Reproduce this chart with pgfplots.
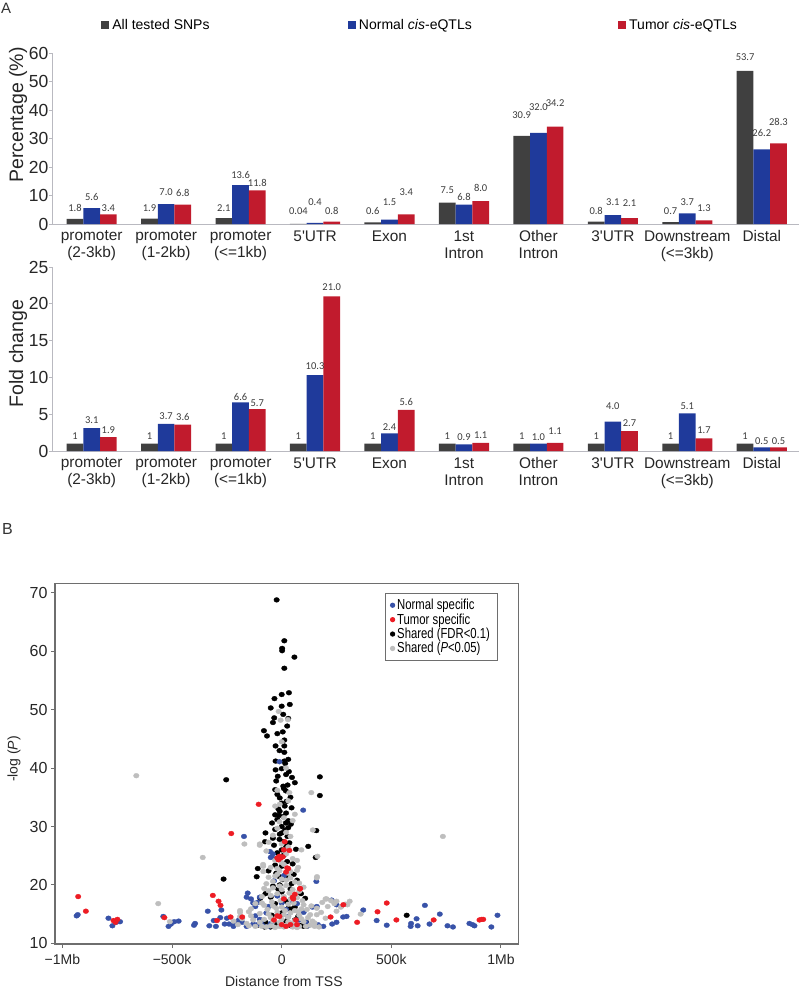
\documentclass[border=0pt]{standalone}
\usepackage{fontspec}
\setmainfont{Liberation Sans}
\newfontfamily\calib{Carlito}
\newfontfamily\narrow[FakeStretch=0.78]{Liberation Sans}
\usepackage{pgfplots}
\usepackage{pgfplotstable}
\pgfplotsset{compat=1.18}

\definecolor{cgray}{RGB}{64,64,64}
\definecolor{cblue}{RGB}{31,58,155}
\definecolor{cred}{RGB}{193,27,45}
\definecolor{labgray}{RGB}{60,60,60}
\definecolor{axgray}{RGB}{185,185,192}
\definecolor{sblue}{RGB}{56,82,168}
\definecolor{sred}{RGB}{237,28,36}
\definecolor{sgray}{RGB}{190,190,190}
\definecolor{boxgray}{RGB}{110,110,110}

% x value label-offset(px)
\pgfplotstableread{
x g gl gd b bl bd r rl rd
0 1.8 1.8 11.2 5.6 5.6 11.3 3.4 3.4 6.6
1 1.9 1.9 10.9 7.0 7.0 11.7 6.8 6.8 11.3
2 2.1 2.1 10.3 13.6 13.6 10.2 11.8 11.8 7.7
3 0.04 0.04 12.9 0.4 0.4 20.6 0.8 0.8 10.7
4 0.6 0.6 11.3 1.5 1.5 17.4 3.4 3.4 22
5 7.5 7.5 12.6 6.8 6.8 7.9 8.0 8.0 12.9
6 30.9 30.9 21 32.0 32.0 26 34.2 34.2 23
7 0.8 0.8 10.7 3.1 3.1 13.5 2.1 2.1 14.7
8 0.7 0.7 11 3.7 3.7 11.8 1.3 1.3 12
9 53.7 53.7 14.3 26.2 26.2 16 28.3 28.3 21.6
}\pct

\pgfplotstableread{
x g gl gd b bl bd r rl rd
0 1 1 7.6 3.1 3.1 8.2 1.9 1.9 7
1 1 1 7.6 3.7 3.7 8 3.6 3.6 7.8
2 1 1 7.6 6.6 6.6 5.8 5.7 5.7 5.8
3 1 1 7.6 10.3 10.3 8.6 21.0 21.0 9.3
4 1 1 7.6 2.4 2.4 6.7 5.6 5.6 8.1
5 1 1 7.6 0.9 0.9 7 1.1 1.1 7.9
6 1 1 7.6 1.0 1.0 6.3 1.1 1.1 12.2
7 1 1 7.6 4.0 4.0 15 2.7 2.7 8.5
8 1 1 7.6 5.1 5.1 7.5 1.7 1.7 8.5
9 1 1 7.6 0.5 0.5 6.6 0.5 0.5 6.6
}\fold

% scatter: distance (Mb), -log P
\pgfplotstableread{
d v
-0.935 14.7
-0.93 14.9
-0.79 14.3
-0.772 13.0
-0.737 13.7
-0.755 13.6
-0.54 14.6
-0.516 12.9
-0.505 13.3
-0.49 13.7
-0.47 13.8
-0.40 13.1
-0.395 13.4
-0.337 15.5
-0.33 13.0
-0.31 13.9
-0.30 12.9
-0.28 14.4
-0.275 15.7
-0.26 13.3
-0.25 14.3
-0.24 13.3
-0.22 13.2
-0.22 12.9
-0.205 13.4
-0.195 14.0
-0.18 13.6
-0.172 28.3
-0.16 17.9
-0.16 12.9
-0.155 18.6
-0.14 17.6
-0.13 16.9
-0.13 13.3
-0.12 14.7
-0.12 16.3
-0.11 13.2
-0.11 17.0
-0.10 14.1
-0.10 17.9
-0.09 13.9
-0.085 13.0
-0.07 15.2
-0.06 16.3
-0.06 12.9
-0.053 25.7
-0.05 24.7
-0.05 13.4
-0.045 24.8
-0.04 25.3
-0.035 20.7
-0.02 18.1
-0.01 41.1
0.0 16.9
0.01 21.6
0.02 15.8
0.03 14.6
0.05 17.2
0.07 16.8
0.08 14.0
0.098 32.8
0.10 15.3
0.11 13.6
0.12 13.0
0.14 16.2
0.158 20.6
0.16 16.3
0.165 13.2
0.19 12.9
0.228 17.4
0.23 13.3
0.25 13.6
0.25 16.6
0.28 14.5
0.296 14.6
0.372 15.7
0.433 13.9
0.479 13.1
0.588 12.9
0.59 13.4
0.615 14.2
0.62 13.0
0.653 16.5
0.674 13.3
0.721 15.0
0.756 13.0
0.781 12.8
0.856 13.4
0.87 13.2
0.879 13.0
0.956 12.8
0.984 14.8
}\sblue

\pgfplotstableread{
d v
-0.928 18.0
-0.893 15.5
-0.767 13.9
-0.749 14.1
-0.758 13.6
-0.535 14.4
-0.314 18.2
-0.288 17.2
-0.279 16.5
-0.295 13.9
-0.233 14.5
-0.23 28.8
-0.105 33.8
-0.18 14.5
-0.01 24.9
-0.005 24.6
-0.015 24.3
-0.02 24.6
0.01 26.0
0.005 24.8
0.014 27.4
0.035 25.9
0.025 22.9
0.03 22.8
0.02 22.2
0.084 19.4
0.083 19.3
0.05 17.9
0.06 18.4
0.01 17.6
0.053 17.6
-0.035 14.0
-0.02 14.7
-0.01 14.6
0.0 13.2
0.04 13.2
0.065 14.0
0.07 13.2
0.02 12.9
0.223 14.5
0.281 16.6
0.344 13.6
0.437 15.4
0.479 16.9
0.523 14.0
0.693 14.0
0.902 14.0
0.912 14.1
0.919 14.1
}\sred

\pgfplotstableread{
d v
-0.023 68.8
0.012 61.8
0.002 60.5
0.002 60.1
0.058 59.0
0.012 57.1
0.0 52.6
0.033 52.9
-0.033 51.9
0.037 50.9
-0.05 50.3
0.0 50.6
0.007 49.2
-0.034 48.6
-0.081 46.4
-0.067 45.5
0.005 46.2
-0.02 45.9
0.012 44.8
-0.028 43.8
0.012 43.8
-0.01 43.0
0.012 42.7
-0.028 41.2
0.012 41.2
0.016 40.8
0.0 39.9
-0.028 39.7
0.033 39.4
-0.018 38.6
-0.253 38.0
0.174 38.5
0.047 38.4
0.06 37.5
0.027 37.1
0.007 36.9
-0.03 36.3
0.019 36.1
0.01 36.5
0.174 35.3
-0.009 34.9
0.022 34.3
0.014 33.5
-0.009 32.6
-0.03 32.0
-0.012 31.9
0.007 31.7
-0.044 30.6
0.019 30.6
0.042 30.4
0.015 29.4
0.158 29.3
0.0 28.9
-0.074 28.9
-0.076 27.4
-0.009 28.7
0.026 28.3
0.007 27.4
0.019 26.7
0.121 26.6
0.065 26.1
0.155 24.7
0.01 25.1
-0.02 24.6
-0.03 23.4
-0.109 22.8
-0.114 21.4
-0.265 21.0
0.02 21.9
-0.015 21.5
0.005 20.9
0.07 20.8
-0.009 20.0
-0.016 19.3
0.04 19.3
-0.074 18.5
-0.05 17.9
-0.098 17.7
0.088 18.5
0.107 17.7
0.049 15.9
0.03 16.0
0.57 14.8
-0.074 13.6
0.112 13.6
0.06 14.0
0.042 13.0
-0.051 12.8
-0.078 12.8
0.113 12.9
-0.02 35.5
0.0 34.0
-0.015 33.0
0.02 32.3
-0.02 31.2
0.0 30.0
-0.03 29.5
0.03 29.8
-0.01 27.8
0.0 26.0
-0.02 25.5
0.025 24.0
0.0 23.2
-0.025 22.0
0.03 21.2
0.045 20.2
-0.04 19.8
0.0 18.8
0.02 17.2
-0.03 16.8
0.06 16.2
0.0 15.2
-0.045 14.8
0.075 14.6
0.02 13.8
-0.02 13.3
0.09 13.1
-0.11 13.1
0.1 12.9
0.035 27.2
-0.035 26.8
0.05 23.6
-0.06 22.4
0.055 21.8
0.03 31.0
-0.04 28.0
0.045 33.2
-0.025 37.8
0.02 38.9
0.04 35.0
0.03 41.5
0.025 47.2
-0.04 47.8
0.03 48.5
}\sblack

\pgfplotstableread{
d v
-0.663 38.7
0.735 28.3
0.135 35.8
0.06 32.1
0.142 29.4
-0.36 24.7
0.163 24.9
0.161 21.4
0.16 21.2
-0.563 16.8
-0.51 13.7
-0.014 49.7
-0.005 48.2
0.028 48.3
-0.009 33.8
-0.1 27.0
-0.1 26.8
-0.17 27.0
-0.06 27.3
-0.04 28.5
0.09 26.0
0.075 23.0
-0.085 23.5
-0.084 23.2
-0.084 22.3
-0.06 21.3
-0.03 21.5
0.0 21.0
0.04 21.2
0.07 22.5
-0.07 20.2
-0.04 19.5
-0.01 19.8
0.02 19.9
0.05 19.2
0.08 20.3
-0.09 18.0
-0.05 18.2
-0.02 18.5
0.01 18.0
0.04 17.6
0.07 17.8
0.10 16.6
-0.12 16.8
-0.08 16.5
-0.04 16.4
0.0 16.2
0.03 16.7
0.06 15.6
0.09 15.9
-0.15 15.4
-0.10 15.1
-0.06 15.0
-0.02 15.3
0.01 14.9
0.04 15.2
0.08 14.8
0.12 14.4
-0.18 14.2
-0.13 14.0
-0.08 14.1
-0.04 13.8
0.0 14.1
0.03 13.7
0.06 13.9
0.10 13.7
0.14 13.8
-0.2 13.2
-0.15 13.0
-0.09 12.9
-0.05 13.0
-0.01 12.9
0.02 13.1
0.05 12.8
0.08 12.9
0.13 13.1
0.17 12.8
0.2 17.6
0.225 17.3
0.25 17.2
0.29 16.7
0.3 16.6
0.25 15.5
-0.22 13.8
-0.19 15.6
-0.19 15.3
-0.19 14.6
-0.14 15.9
0.16 14.9
0.36 15.0
0.185 17.0
0.0 23.8
0.02 25.3
-0.02 22.8
0.03 26.5
-0.01 30.8
0.02 29.0
0.05 31.0
0.0 44.5
0.02 40.0
-0.02 36.2
0.035 35.8
0.15 12.9
-0.07 12.8
-0.05 14.4
-0.03 12.7
-0.01 13.6
0.01 12.8
0.03 14.5
0.05 13.5
0.07 12.7
0.09 14.2
0.11 12.9
0.13 14.9
0.15 13.5
-0.065 15.8
-0.045 17.1
-0.025 16.0
-0.005 17.3
0.015 15.6
0.035 18.6
0.055 16.9
0.075 15.4
0.095 17.3
0.115 15.8
0.135 16.4
-0.06 19.0
-0.04 20.6
-0.02 21.8
0.0 19.2
0.02 20.8
0.04 22.3
0.06 20.5
0.08 18.9
0.1 19.6
-0.08 19.4
-0.05 23.0
-0.03 24.2
-0.01 22.4
0.01 23.5
0.03 22.0
0.05 24.5
0.07 24.2
-0.07 25.8
0.0 27.0
0.04 28.3
-0.02 29.7
0.01 31.5
-0.03 33.5
0.03 34.4
0.16 16.0
0.18 15.3
0.2 14.3
0.21 16.3
0.24 16.8
0.27 16.2
0.31 17.2
0.205 17.6
-0.1 13.6
-0.12 12.9
-0.14 14.7
-0.16 13.4
-0.09 16.9
}\sgrayt

\pgfplotsset{
  barax/.style={
    scale only axis, width=747pt, anchor=south west,
    xmin=-0.533, xmax=9.5, ymin=0,
    ybar=0pt, bar width=16.7pt,
    axis x line*=bottom, axis y line*=left,
    axis line style={draw=axgray, line width=0.9pt},
    tick align=outside, major tick length=3pt,
    xtick={0,...,9}, xtick style={draw=none},
    ytick style={draw=axgray, line width=0.9pt},
    xticklabels={{promoter\\(2-3kb)},{promoter\\(1-2kb)},{promoter\\(<=1kb)},{5\textquotesingle UTR},{Exon},{1st\\Intron},{Other\\Intron},{3\textquotesingle UTR},{Downstream\\(<=3kb)},{Distal}},
    xticklabel style={align=center, font=\fontsize{15.4}{17}\selectfont, text=black!85},
    yticklabel style={font=\fontsize{17.5}{17.5}\selectfont, inner sep=0.5pt, text=black!85},
    /pgf/number format/assume math mode=true,
    clip=false,
    nodes near coords,
    point meta=explicit symbolic,
    every node near coord/.append style={font=\calib\fontsize{10.5}{10.5}\selectfont, text=labgray, anchor=center, yshift=\dy, inner sep=0pt},
  },
  gbar/.style={fill=cgray, draw=none},
  bbar/.style={fill=cblue, draw=none},
  rbar/.style={fill=cred, draw=none},
}

\begin{document}
\begin{tikzpicture}
\useasboundingbox (0pt,0pt) rectangle (800pt,-988pt);
\node[anchor=west, inner sep=0pt, font=\fontsize{15}{15}\selectfont, text=black!80] at (1pt,-8pt) {A};
\node[anchor=west, inner sep=0pt, font=\fontsize{16}{16}\selectfont, text=black!80] at (2pt,-529pt) {B};

% ---------- Percentage ----------
\begin{axis}[barax,
  at={(52pt,-224pt)}, height=171pt, ymax=60, ytick={0,10,...,60},
  ylabel={Percentage (\%)},
  every axis y label/.style={at={(axis description cs:-0.0455,0.637)}, rotate=90, anchor=center, font=\fontsize{19.5}{19.5}\selectfont, text=black!85},
  legend columns=3,
  legend style={at={(axis description cs:0.0655,1.1637)}, anchor=west, draw=none, fill=none,
    font=\fontsize{14}{14}\selectfont, inner sep=0pt, nodes={inner xsep=3.2pt, inner ysep=1pt},
    /tikz/column 2/.style={column sep=135pt},
    /tikz/column 4/.style={column sep=143pt}},
  legend image code/.code={\fill[#1] (0pt,-4pt) rectangle (8pt,4pt);},
]
\addplot[gbar, visualization depends on={\thisrow{gd} \as \dy}] table[x=x, y=g, meta=gl] {\pct};
\addlegendentry{All tested SNPs}
\addplot[bbar, visualization depends on={\thisrow{bd} \as \dy}] table[x=x, y=b, meta=bl] {\pct};
\addlegendentry{Normal \textit{cis}-eQTLs}
\addplot[rbar, visualization depends on={\thisrow{rd} \as \dy}] table[x=x, y=r, meta=rl] {\pct};
\addlegendentry{Tumor \textit{cis}-eQTLs}
\end{axis}

% ---------- Fold change ----------
\begin{axis}[barax,
  at={(52pt,-451pt)}, height=184pt, ymax=25, ytick={0,5,...,25},
  ylabel={Fold change},
  every axis y label/.style={at={(axis description cs:-0.0455,0.53)}, rotate=90, anchor=center, font=\fontsize{19.5}{19.5}\selectfont, text=black!85},
]
\addplot[gbar, visualization depends on={\thisrow{gd} \as \dy}] table[x=x, y=g, meta=gl] {\fold};
\addplot[bbar, visualization depends on={\thisrow{bd} \as \dy}] table[x=x, y=b, meta=bl] {\fold};
\addplot[rbar, visualization depends on={\thisrow{rd} \as \dy}] table[x=x, y=r, meta=rl] {\fold};
\end{axis}

% ---------- Scatter ----------
\begin{axis}[
  at={(55pt,-944pt)}, anchor=south west, scale only axis,
  width=463.3pt, height=360.7pt,
  xmin=-1.0337, xmax=1.0789, ymin=9.88, ymax=71.64,
  axis line style={draw=boxgray, line width=1.3pt},
  tick align=outside, major tick length=4pt,
  tick style={draw=boxgray, line width=1pt},
  xtick pos=left, ytick pos=left,
  xtick={-1,-0.5,0,0.5,1}, xticklabels={−1Mb,−500k,0,500k,1Mb},
  ytick={10,20,...,70},
  /pgf/number format/assume math mode=true,
  xticklabel style={font=\fontsize{14}{14}\selectfont, yshift=-3pt, text=black!85},
  yticklabel style={font=\fontsize{16}{16}\selectfont, text=black!85},
  xlabel={Distance from TSS},
  every axis x label/.style={at={(axis description cs:0.494,-0.105)}, anchor=center, font=\fontsize{14}{14}\selectfont, text=black!85},
  ylabel={-log (\textit{P})},
  every axis y label/.style={at={(axis description cs:-0.0885,0.513)}, rotate=90, anchor=center, font=\fontsize{14}{14}\selectfont, text=black!85},
  legend cell align=left,
  legend style={at={(axis description cs:0.7123,0.973)}, anchor=north west,
    draw=boxgray, line width=1pt, fill=white,
    font=\narrow\fontsize{14.5}{15}\selectfont, inner xsep=5pt, inner ysep=4.5pt,
    nodes={inner ysep=1.2pt, inner xsep=2.5pt}},
]
\addlegendimage{only marks, mark=*, mark size=2.1pt, color=sblue}
\addlegendentry{Normal specific}
\addlegendimage{only marks, mark=*, mark size=2.1pt, color=sred}
\addlegendentry{Tumor specific}
\addlegendimage{only marks, mark=*, mark size=2.1pt, color=black}
\addlegendentry{Shared (FDR<0.1)}
\addlegendimage{only marks, mark=*, mark size=2.1pt, color=sgray}
\addlegendentry{Shared (\textit{P}<0.05)}

\addplot[forget plot, only marks, mark=*, mark size=2.8pt, color=black, mark options={yscale=0.87, line width=0.3pt}] table[x=d, y=v] {\sblack};
\addplot[forget plot, only marks, mark=*, mark size=2.8pt, color=sblue, mark options={yscale=0.87, line width=0.3pt}] table[x=d, y=v] {\sblue};
\addplot[forget plot, only marks, mark=*, mark size=2.8pt, color=sgray, mark options={yscale=0.87, line width=0.3pt}] table[x=d, y=v] {\sgrayt};
\addplot[forget plot, only marks, mark=*, mark size=2.8pt, color=sred, mark options={yscale=0.87, line width=0.3pt}] table[x=d, y=v] {\sred};
\end{axis}
\end{tikzpicture}
\end{document}
